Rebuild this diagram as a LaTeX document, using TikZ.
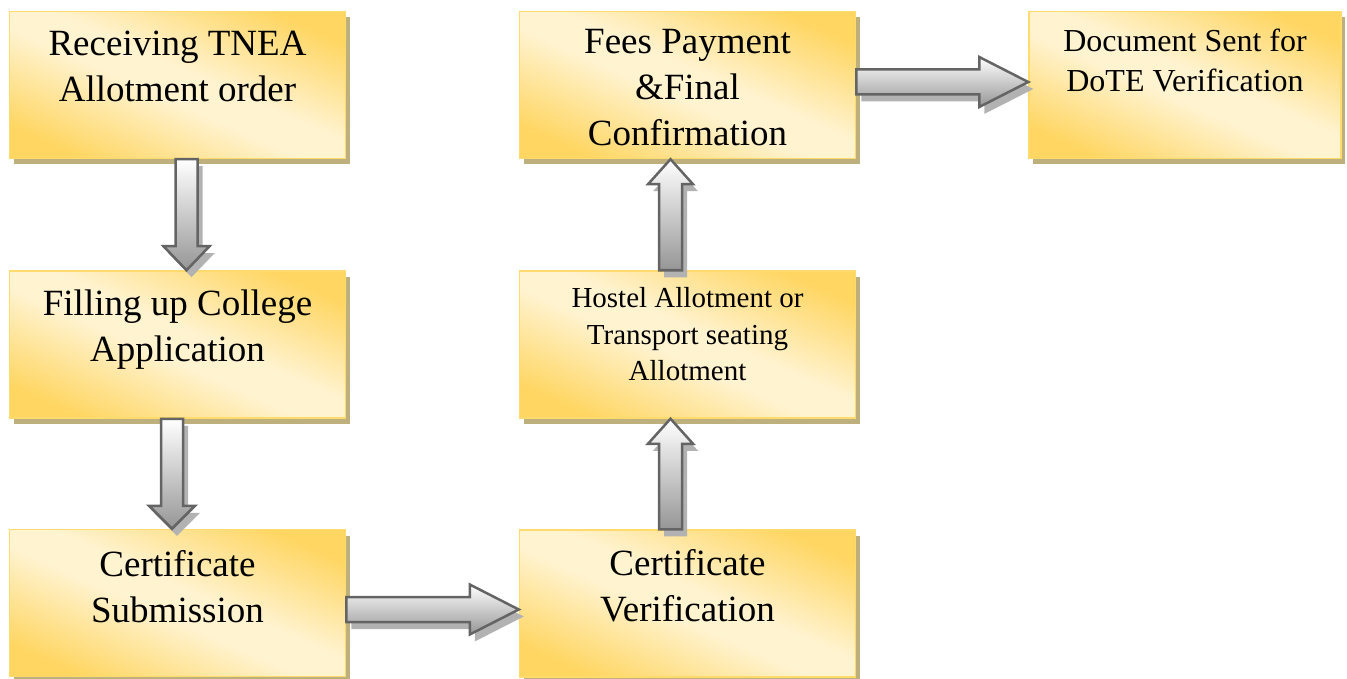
\documentclass[tikz,border=0pt]{standalone}
\usepackage{fontspec}
\setmainfont{Liberation Serif}
\usetikzlibrary{calc,shadows,positioning}

\definecolor{boxgold}{RGB}{255,214,98}
\definecolor{boxlight}{RGB}{255,243,208}
\definecolor{boxline}{RGB}{255,218,108}
\definecolor{boxshadow}{RGB}{190,176,124}
\definecolor{arrowline}{RGB}{100,100,100}
\definecolor{arrowgray}{RGB}{150,150,150}
\definecolor{arrowshadow}{RGB}{178,178,178}

% gold corners, light band through the middle
\pgfdeclareverticalshading{boxshade}{100bp}{color(0bp)=(boxgold); color(24bp)=(boxgold);
  color(46bp)=(boxlight); color(54bp)=(boxlight); color(76bp)=(boxgold); color(100bp)=(boxgold)}

\tikzset{
  box/.style={rectangle, draw=boxline, line width=1.5pt, inner sep=0pt,
    minimum width=336pt, minimum height=147pt,
    shading=boxshade, shading angle=-24,
    drop shadow={shadow xshift=4pt, shadow yshift=-6pt, fill=boxshadow, opacity=1}},
  bigtxt/.style={align=center, inner sep=0pt, font=\fontsize{37}{46}\selectfont},
  midtxt/.style={align=center, inner sep=0pt, font=\fontsize{32}{40}\selectfont},
  smalltxt/.style={align=center, inner sep=0pt, font=\fontsize{29}{36.5}\selectfont},
  barrow/.style={draw=arrowline, line width=2.5pt, line join=miter,
    top color=white, bottom color=arrowgray,
    drop shadow={shadow xshift=5pt, shadow yshift=-7pt, fill=arrowshadow, opacity=1}}
}

% block arrow: tail, tip, shaft half width, head half width, head length
\newcommand{\blockarrow}[5]{%
  \coordinate (hb) at ($(#2)!#5!(#1)$);
  \draw[barrow] ($(#1)!#3!90:(#2)$) -- ($(hb)!#3!-90:(#1)$) -- ($(hb)!#4!-90:(#1)$)
    -- (#2) -- ($(hb)!#4!90:(#1)$) -- ($(hb)!#3!90:(#1)$) -- ($(#1)!#3!-90:(#2)$) -- cycle;
}

\begin{document}
\begin{tikzpicture}[x=1pt,y=-1pt]
\useasboundingbox (0,0) rectangle (1347,679);

% boxes
\node[box] (recv) at (177.5,85) {};
\node[box] (fill) at (177.5,344.5) {};
\node[box] (subm) at (177.5,603) {};
\node[box] (verif) at (687.5,603.5) {};
\node[box] (hostel) at (687.5,344.5) {};
\node[box] (fees) at (687.5,85) {};
\node[box, minimum width=312pt] (dote) at (1185,85) {};

% texts
\node[bigtxt, below=20pt of recv.north] (recvtxt) {Receiving TNEA\\Allotment order};
\node[bigtxt, below=19pt of fill.north] (filltxt) {Filling up College\\Application};
\node[bigtxt, below=21pt of subm.north] (submtxt) {Certificate\\Submission};
\node[bigtxt, below=20pt of verif.north] (veriftxt) {Certificate\\Verification};
\node[smalltxt, below=17pt of hostel.north] (hosteltxt) {Hostel Allotment or\\Transport seating\\Allotment};
\node[bigtxt, below=18.5pt of fees.north] (feestxt) {Fees Payment\\\&Final\\Confirmation};
\node[midtxt, below=18pt of dote.north] (dotetxt) {Document Sent for\\DoTE Verification};

% arrows
\coordinate (a1s) at ($(recv.south)+(9,0)$);
\coordinate (a1e) at ($(fill.north)+(9,0)$);
\blockarrow{a1s}{a1e}{11pt}{23pt}{24pt}
\coordinate (a2s) at ($(fill.south)+(-5.5,0)$);
\coordinate (a2e) at ($(subm.north)+(-5.5,0)$);
\blockarrow{a2s}{a2e}{11pt}{23pt}{23pt}
\coordinate (a3s) at ($(subm.east)+(0,6.5)$);
\coordinate (a3e) at ($(verif.west)+(0,6)$);
\blockarrow{a3s}{a3e}{12.5pt}{25pt}{49pt}
\coordinate (a4s) at ($(verif.north)+(-17,0)$);
\coordinate (a4e) at ($(hostel.south)+(-17,0)$);
\blockarrow{a4s}{a4e}{11.5pt}{22.5pt}{25pt}
\coordinate (a5s) at ($(hostel.north)+(-17,0)$);
\coordinate (a5e) at ($(fees.south)+(-17,0)$);
\blockarrow{a5s}{a5e}{11.5pt}{22.5pt}{25pt}
\coordinate (a6s) at ($(fees.east)+(0,-3)$);
\coordinate (a6e) at ($(dote.west)+(0,-3)$);
\blockarrow{a6s}{a6e}{12.5pt}{25pt}{49pt}
\end{tikzpicture}
\end{document}
